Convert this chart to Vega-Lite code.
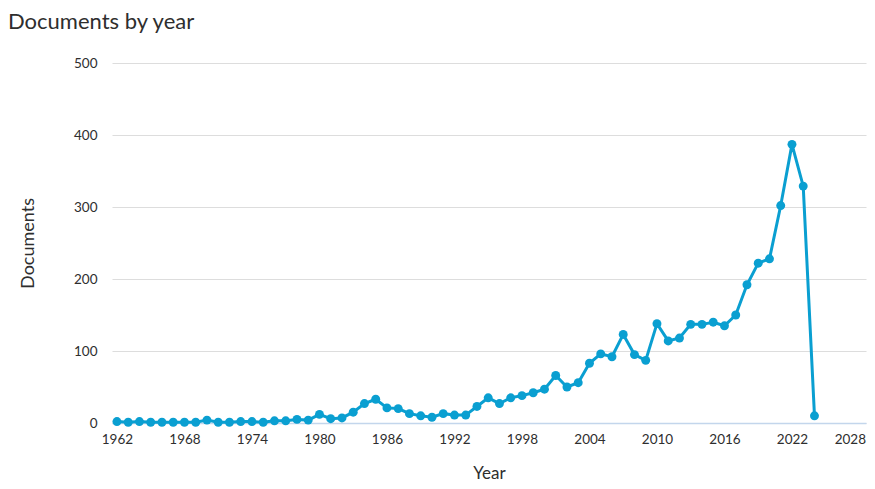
{
  "$schema": "https://vega.github.io/schema/vega-lite/v6.json",
  "width": 754,
  "height": 360,
  "autosize": "none",
  "padding": {"left": 112, "top": 63, "right": 9, "bottom": 66},
  "background": "white",
  "title": {
    "text": "Documents by year",
    "anchor": "start",
    "frame": "group",
    "dx": -104,
    "dy": -18,
    "fontSize": 22,
    "font": "Lato",
    "fontWeight": "normal",
    "color": "#2e2e2e"
  },
  "config": {
    "view": {"stroke": null},
    "font": "Lato"
  },
  "data": {
    "values": [
      {"year": 1962, "documents": 2}, {"year": 1963, "documents": 1}, {"year": 1964, "documents": 2},
      {"year": 1965, "documents": 1}, {"year": 1966, "documents": 1}, {"year": 1967, "documents": 1},
      {"year": 1968, "documents": 1}, {"year": 1969, "documents": 1}, {"year": 1970, "documents": 4},
      {"year": 1971, "documents": 1}, {"year": 1972, "documents": 1}, {"year": 1973, "documents": 2},
      {"year": 1974, "documents": 2}, {"year": 1975, "documents": 1}, {"year": 1976, "documents": 3},
      {"year": 1977, "documents": 3}, {"year": 1978, "documents": 5}, {"year": 1979, "documents": 4},
      {"year": 1980, "documents": 12}, {"year": 1981, "documents": 6}, {"year": 1982, "documents": 7},
      {"year": 1983, "documents": 15}, {"year": 1984, "documents": 27}, {"year": 1985, "documents": 33},
      {"year": 1986, "documents": 21}, {"year": 1987, "documents": 20}, {"year": 1988, "documents": 13},
      {"year": 1989, "documents": 10}, {"year": 1990, "documents": 8}, {"year": 1991, "documents": 13},
      {"year": 1992, "documents": 11}, {"year": 1993, "documents": 11}, {"year": 1994, "documents": 23},
      {"year": 1995, "documents": 35}, {"year": 1996, "documents": 27}, {"year": 1997, "documents": 35},
      {"year": 1998, "documents": 38}, {"year": 1999, "documents": 42}, {"year": 2000, "documents": 47},
      {"year": 2001, "documents": 66}, {"year": 2002, "documents": 50}, {"year": 2003, "documents": 56},
      {"year": 2004, "documents": 83}, {"year": 2005, "documents": 96}, {"year": 2006, "documents": 92},
      {"year": 2007, "documents": 123}, {"year": 2008, "documents": 95}, {"year": 2009, "documents": 87},
      {"year": 2010, "documents": 138}, {"year": 2011, "documents": 114}, {"year": 2012, "documents": 118},
      {"year": 2013, "documents": 137}, {"year": 2014, "documents": 137}, {"year": 2015, "documents": 140},
      {"year": 2016, "documents": 135}, {"year": 2017, "documents": 150}, {"year": 2018, "documents": 192},
      {"year": 2019, "documents": 222}, {"year": 2020, "documents": 228}, {"year": 2021, "documents": 302},
      {"year": 2022, "documents": 387}, {"year": 2023, "documents": 329}, {"year": 2024, "documents": 10}
    ]
  },
  "mark": {
    "type": "line",
    "color": "#0a9fd1",
    "strokeWidth": 3,
    "point": {"filled": true, "size": 80, "color": "#0a9fd1", "opacity": 1}
  },
  "encoding": {
    "x": {
      "field": "year",
      "type": "quantitative",
      "title": "Year",
      "scale": {"domain": [1961.56, 2028.58], "nice": false, "zero": false},
      "axis": {
        "values": [1962, 1968, 1974, 1980, 1986, 1992, 1998, 2004, 2010, 2016, 2022, 2028],
        "format": "d",
        "grid": false,
        "ticks": false,
        "domainColor": "#c3d6ec",
        "domainWidth": 1.5,
        "labelFlush": false,
        "labelAlign": {"expr": "datum.value == 2028 ? 'right' : 'center'"},
        "labelOffset": {"expr": "datum.value == 2028 ? 6 : 0"},
        "labelPadding": 9,
        "labelFontSize": 13.5,
        "labelColor": "#2e2e2e",
        "titleFontSize": 17,
        "titleFontWeight": "normal",
        "titleColor": "#2e2e2e",
        "titlePadding": 20
      }
    },
    "y": {
      "field": "documents",
      "type": "quantitative",
      "title": "Documents",
      "scale": {"domain": [0, 500], "nice": false},
      "axis": {
        "values": [0, 100, 200, 300, 400, 500],
        "domain": false,
        "ticks": false,
        "gridColor": "#dddddd",
        "gridWidth": 1,
        "labelPadding": 15,
        "labelFontSize": 13.5,
        "labelColor": "#2e2e2e",
        "titleFontSize": 18,
        "titleFontWeight": "normal",
        "titleColor": "#2e2e2e",
        "titlePadding": 36
      }
    }
  }
}
